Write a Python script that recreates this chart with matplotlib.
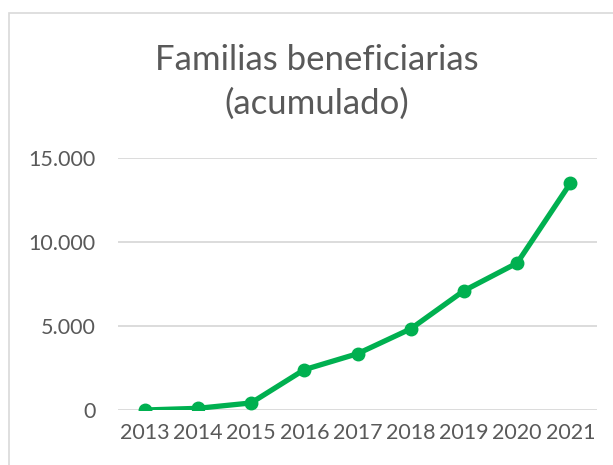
import matplotlib.pyplot as plt
from matplotlib.patches import Rectangle
from matplotlib.ticker import FuncFormatter

plt.rcParams['font.family'] = ['Lato', 'DejaVu Sans']

years = ['2013', '2014', '2015', '2016', '2017', '2018', '2019', '2020', '2021']
familias = [0, 100, 420, 2400, 3350, 4830, 7100, 8750, 13500]

gray = '#595959'
green = '#00B050'

fig = plt.figure(figsize=(6.13, 4.65), dpi=100)

# chart border (as in the spreadsheet export)
fig.patches.append(Rectangle((9 / 613, -0.1), 1.2, 1 - 13 / 465 + 0.1,
                             transform=fig.transFigure, fill=False,
                             edgecolor='#D9D9D9', linewidth=1.2))

ax = fig.add_axes([118 / 613, 55 / 465, 479 / 613, 252 / 465])
x = range(len(years))
ax.plot(x, familias, color=green, linewidth=3.8, marker='o', markersize=9,
        solid_capstyle='round', zorder=3)

ax.set_xlim(-0.5, len(years) - 0.5)
ax.set_ylim(0, 15000)
ax.set_yticks([0, 5000, 10000, 15000])
ax.yaxis.set_major_formatter(FuncFormatter(lambda v, p: f'{int(v):,}'.replace(',', '.')))
ax.set_xticks(list(x))
ax.set_xticklabels(years)
ax.grid(axis='y', color='#D9D9D9', linewidth=1.3)
ax.set_axisbelow(True)
for s in ax.spines.values():
    s.set_visible(False)
ax.tick_params(length=0, labelsize=15.5, labelcolor=gray)
ax.tick_params(axis='y', pad=16)
ax.tick_params(axis='x', pad=9)

fig.text(0.517, 1 - 60 / 465, 'Familias beneficiarias', ha='center', va='center',
         fontsize=25, color=gray)
fig.text(0.517, 1 - 104 / 465, '(acumulado)', ha='center', va='center',
         fontsize=25, color=gray)

fig.savefig('out.png', dpi=100)
